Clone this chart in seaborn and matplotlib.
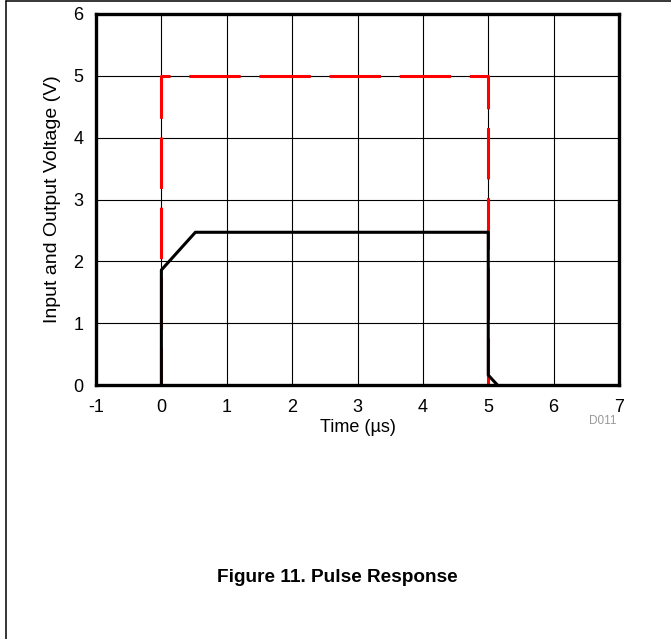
import matplotlib
matplotlib.use("Agg")
import matplotlib.pyplot as plt
from matplotlib.lines import Line2D
import seaborn as sns
import pandas as pd

# input pulse (red dashed)
t_in = [0, 0, 5, 5]
v_in = [0, 5, 5, 0]

# output response (black)
t_out = [0, 0, 0.52, 5, 5, 5.14]
v_out = [0, 1.86, 2.47, 2.47, 0.16, 0]

xticks = [-1, 0, 1, 2, 3, 4, 5, 6, 7]
yticks = [0, 1, 2, 3, 4, 5, 6]

sns.set_style("white")
plt.rcParams['font.family'] = ['Liberation Sans', 'DejaVu Sans']
plt.rcParams['lines.scale_dashes'] = False
plt.rcParams['axes.unicode_minus'] = False
plt.rcParams['text.color'] = 'black'
plt.rcParams['axes.labelcolor'] = 'black'

df_in = pd.DataFrame({'t': t_in, 'v': v_in})
df_out = pd.DataFrame({'t': t_out, 'v': v_out})

fig = plt.figure(figsize=(6.71, 6.39), dpi=100)
ax = fig.add_axes([96/671, 1-385/639, 523/671, 371/639])

sns.lineplot(data=df_in, x='t', y='v', sort=False, estimator=None, ax=ax,
             color='#ff0000', lw=2.2, zorder=3)
ax.lines[-1].set_linestyle((10, (37, 13.5)))
sns.lineplot(data=df_out, x='t', y='v', sort=False, estimator=None, ax=ax,
             color='black', lw=2.2, zorder=4)

ax.set_xlim(-1, 7)
ax.set_ylim(0, 6)
ax.set_xticks(xticks)
ax.set_yticks(yticks)
ax.tick_params(axis='x', length=0, labelsize=13, pad=10, colors='black')
ax.tick_params(axis='y', length=0, labelsize=13, pad=9, colors='black')
ax.grid(True, color='black', lw=0.8)
ax.set_axisbelow(True)
for s in ax.spines.values():
    s.set_visible(True)
    s.set_color('black')
    s.set_linewidth(2.4)
    s.set_zorder(5)

ax.set_xlabel('Time (\u00b5s)', fontsize=13, labelpad=2)
ax.set_ylabel('Input and Output Voltage (V)', fontsize=14, labelpad=9)

fig.text(617/671, 1-421/639, 'D011', ha='right', va='center', fontsize=8.5, color='#999999')
fig.text(337/671, 1-577/639, 'Figure 11. Pulse Response', ha='center', va='center',
         fontsize=13.7, fontweight='bold')

# page frame
fig.add_artist(Line2D([6/671, 1], [1-1/639, 1-1/639], transform=fig.transFigure, color='black', lw=1.1))
fig.add_artist(Line2D([6/671, 6/671], [0, 1-1/639], transform=fig.transFigure, color='black', lw=1.1))

fig.savefig('out.png', dpi=100)
